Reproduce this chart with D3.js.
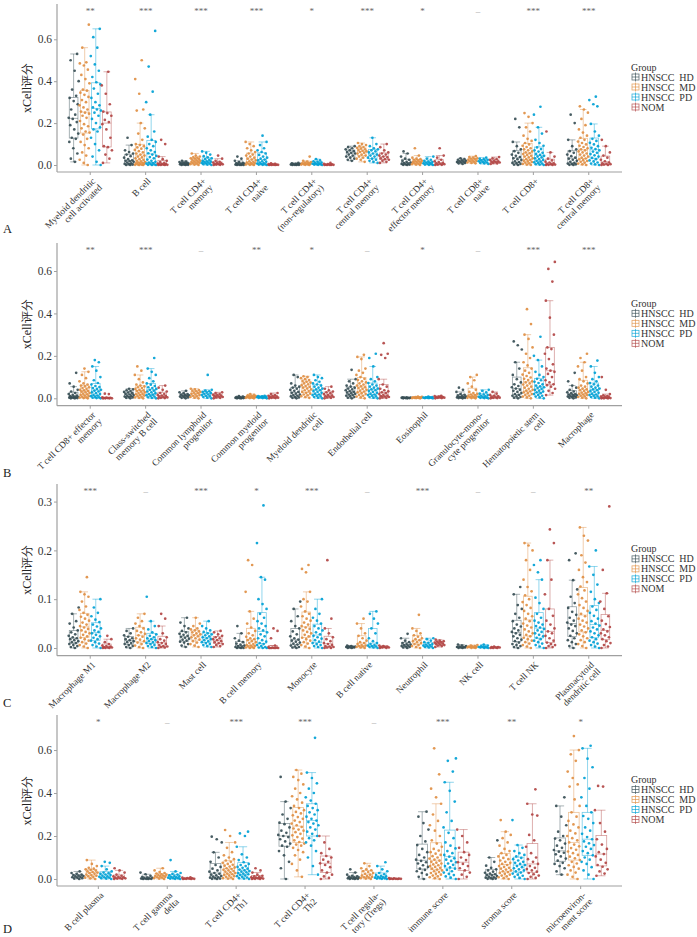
<!DOCTYPE html>
<html>
<head>
<meta charset="utf-8">
<script src="https://cdn.jsdelivr.net/npm/d3@7"></script>
<style>
  body { margin: 0; background: #fff; }
  text { font-family: "Liberation Serif", "Times New Roman", serif; }
</style>
</head>
<body>
<svg id="chart" width="697" height="937"></svg>
<script>
// groups and palette (JAMA)
var groups = ["HNSCC  HD", "HNSCC  MD", "HNSCC  PD", "NOM"];
var colors = ["#374E55", "#DF8F44", "#00A1D5", "#B24745"];

// xCell scores, in units of 0.001
var catsA = ["Myeloid dendritic\ncell activated", "B cell", "T cell CD4+\nmemory", "T cell CD4+\nnaive",
  "T cell CD4+\n(non-regulatory)", "T cell CD4+\ncentral memory", "T cell CD4+\neffector memory",
  "T cell CD8+\nnaive", "T cell CD8+", "T cell CD8+\ncentral memory"];
var sigA = ["**", "***", "***", "***", "*", "***", "*", "–", "***", "***"];
var A_HD = [
  [15,30,55,80,110,125,130,150,170,190,205,220,225,240,265,290,305,320,330,360,400,450,500,530],
  [0,0,2,4,5,8,12,15,18,20,22,28,35,42,50,55,62,70,95,130],
  [0,0,1,2,3,4,5,6,7,8,10,12,14,16,20],
  [0,0,0,1,2,3,4,5,6,8,10,14,20,30,40],
  [0,0,1,1,2,3,4,5,6,8,10],
  [20,25,30,35,40,45,50,55,58,62,66,70,75,80,85,90],
  [0,1,2,3,5,7,9,12,15,20,25,30,40,55,65],
  [5,8,10,12,14,16,18,20,22,25,28,32],
  [0,2,5,8,10,14,18,24,28,32,38,44,50,58,66,75,90,110,180,220],
  [0,1,3,5,7,10,15,20,25,30,35,42,50,58,66,75,90,120,200,240]
];
var A_MD = [
  [0,10,25,45,60,80,95,110,125,145,155,160,175,185,195,210,225,235,245,250,255,265,275,285,300,310,325,335,345,355,360,390,410,430,455,475,485,490,560,670],
  [0,0,1,2,3,5,6,8,10,12,14,17,20,24,28,32,36,40,45,50,55,60,66,72,78,84,90,95,100,120,150,175,200,260,265,340,410,500],
  [0,2,4,6,8,10,12,14,16,18,20,22,25,28,30,32,35,38,40,45,55],
  [0,1,2,4,6,8,10,12,15,18,22,26,30,35,40,45,50,55,62,70,80,90,100,110],
  [0,1,2,3,4,5,6,8,10,12,14,16,20,40],
  [15,25,30,35,40,45,50,55,58,62,65,68,72,75,78,82,86,90,95,100,105],
  [0,2,4,6,8,10,12,14,16,18,20,22,25,28,30,35,45,80],
  [8,10,12,15,18,20,22,25,28,30,32,35,38,42],
  [0,2,5,8,11,14,17,20,24,28,32,36,40,44,48,52,56,60,65,70,75,80,86,92,98,105,115,125,140,160,180,200,230,248],
  [0,3,7,11,15,19,23,27,31,35,40,45,50,55,60,65,70,75,80,86,92,98,105,112,120,130,140,155,170,190,220,250,265,280]
];
var A_PD = [
  [0,15,40,70,100,130,160,170,180,200,220,235,250,260,265,275,285,300,320,340,365,385,395,420,450,480,520,560,610,650],
  [0,0,1,3,5,7,9,11,15,20,26,32,38,44,50,56,62,70,80,90,100,110,120,135,160,240,300,350,470,640],
  [0,2,4,6,8,10,12,14,16,18,20,24,28,32,36,42,50,58,65],
  [0,1,2,3,5,7,9,12,15,18,22,26,30,35,40,48,55,62,70,80,95,110,140],
  [0,1,2,3,4,6,8,10,12,15,18,22,28],
  [10,15,20,25,30,35,40,45,50,55,60,65,70,75,80,90,100,130],
  [0,1,2,4,6,8,10,12,14,16,20,25,30,40],
  [5,8,10,12,15,18,20,22,25,28,30,35],
  [0,2,4,7,10,13,16,20,24,28,32,36,40,44,48,53,58,64,70,76,84,92,105,120,150,180,240,278],
  [0,3,7,12,17,22,28,34,40,46,52,58,64,70,76,82,90,98,106,115,125,140,160,196,280,290,310,326]
];
var A_NOM = [
  [10,30,50,70,85,90,130,170,195,205,215,235,248,255,290,340,380,445],
  [0,0,0,1,2,3,4,5,7,10,14,20,28,40,100,120],
  [0,1,2,3,4,6,8,10,12,15,20,30,45],
  [0,0,0,1,1,2,2,3,4,5,8],
  [0,0,0,1,1,2,3,4,6,10],
  [10,15,20,25,28,32,36,40,45,50,55,60,70,85,100],
  [0,1,2,4,6,8,10,14,18,25,35,45,80],
  [5,8,10,12,14,16,18,20,24,28,32,38],
  [0,0,1,2,4,6,8,12,16,22,30,40,60,160],
  [0,0,2,4,6,8,12,18,25,35,45,60,90,120]
];

var catsB = ["T cell CD8+ effector\nmemory", "Class-switched\nmemory B cell", "Common lymphoid\nprogenitor",
  "Common myeloid\nprogenitor", "Myeloid dendritic\ncell", "Endothelial cell", "Eosinophil",
  "Granulocyte-mono-\ncyte progenitor", "Hematopoietic stem\ncell", "Macrophage"];
var sigB = ["**", "***", "–", "**", "*", "–", "*", "–", "***", "***"];
var B_HD = [
  [0,0,1,2,3,4,5,6,8,10,13,16,20,25,32,40,55,70,120],
  [0,2,4,6,8,10,12,15,18,21,24,27,30,34,38,42,45],
  [0,2,4,6,8,10,12,14,16,18,20,24,28,35],
  [0,0,1,1,2,2,3,4,5,6,8,10],
  [0,2,4,6,9,12,15,18,22,26,30,35,40,45,50,55,60,70,100,110],
  [0,3,6,9,12,15,18,21,24,27,30,34,38,42,46,50,55,60,70,80,90,134],
  [0,0,1,1,2,2,3,3,4,5],
  [0,1,2,3,4,5,6,8,10,13,16,20,30,40,50],
  [0,3,6,9,12,16,20,25,30,35,40,46,52,58,66,75,90,110,140,170,230,250,268],
  [0,2,4,6,8,10,12,14,16,18,20,24,28,32,40,50,60,80,120]
];
var B_MD = [
  [0,1,3,5,7,10,13,16,19,22,25,28,31,34,37,40,44,48,52,56,60,65,70,80,95,110,125,140],
  [0,2,4,7,10,13,16,19,22,25,28,31,34,37,40,44,48,52,56,60,65,75,90,110,130,150],
  [0,3,6,9,12,15,18,21,24,27,30,33,36,39,42,45],
  [0,1,2,3,4,5,6,7,8,9,10,12,14,16,20],
  [2,6,10,14,18,22,26,30,34,38,42,46,50,54,58,62,66,70,74,78,82,86,90,95,100,104],
  [0,4,8,12,16,20,24,28,32,36,40,44,48,52,56,60,65,70,75,80,86,92,100,110,120,130,140,185,195,205],
  [0,1,1,2,2,3,3,4,5,6,7,8],
  [0,1,2,4,6,8,10,12,15,18,21,25,30,40,55,70,85,100,110],
  [0,4,8,12,16,20,24,28,32,36,40,45,50,55,60,65,70,75,80,86,92,98,105,112,120,130,140,155,170,190,210,240,280,300,350,420],
  [0,3,6,9,12,15,18,21,24,27,30,34,38,42,46,50,55,60,70,80,90,100,130,150,170,190,210]
];
var B_PD = [
  [0,1,3,5,7,10,13,16,20,24,28,32,36,40,44,48,53,58,65,72,85,100,130,150,170,180],
  [0,2,5,8,11,14,17,20,24,28,32,36,40,44,48,52,58,64,70,80,95,110,125,140,190],
  [0,3,6,9,12,15,18,21,24,27,30,33,36,40,110],
  [0,1,2,3,4,5,6,7,8,9,10,12],
  [0,3,6,9,12,15,18,22,26,30,34,38,42,46,50,55,60,65,70,78,85,95,100,110],
  [0,3,6,9,12,15,18,22,26,30,34,38,42,46,50,55,60,65,72,80,90,100,150,190,210],
  [0,1,1,2,2,3,4,5,6,8],
  [0,1,2,3,5,7,9,12,15,18,22,28,35,40],
  [0,4,8,12,16,20,24,28,32,36,40,44,48,52,56,60,66,72,78,85,92,100,110,125,150,180,200,290],
  [0,3,6,9,12,15,18,22,26,30,34,38,42,46,50,55,60,66,72,80,90,100,120,150,178]
];
var B_NOM = [
  [0,0,0,0,1,1,2,3,5,20,22],
  [0,1,2,4,6,8,10,13,16,20,25,32,40,50,60],
  [0,2,4,6,8,10,12,14,17,20,24,28],
  [0,1,2,3,4,6,8,10,12,15,20,25],
  [0,2,4,6,8,10,13,16,20,24,28,32,38,45,55],
  [0,2,4,6,8,10,13,16,20,24,28,33,38,45,55,65,90,190,205,210,260],
  [0,1,2,3,4,5,6,8,10,12],
  [0,1,2,3,5,7,9,12,16,22,30],
  [15,25,35,45,55,62,66,75,85,100,115,125,130,140,160,185,210,232,240,300,380,460,550,610,643],
  [0,0,0,1,2,3,4,6,8,10,14,20,40,100]
];

var catsC = ["Macrophage M1", "Macrophage M2", "Mast cell", "B cell memory", "Monocyte",
  "B cell native", "Neutrophil", "NK cell", "T cell NK", "Plasmacytoid\ndendritic cell"];
var sigC = ["***", "–", "***", "*", "***", "–", "***", "–", "–", "**"];
var C_HD = [
  [0,2,4,6,8,10,12,14,16,18,20,22,25,28,32,36,42,50,55,70,83],
  [0,2,4,6,8,10,12,14,16,18,20,23,26,30,35,40],
  [2,5,8,11,13,15,17,19,21,23,25,27,29,32,35,40,45,52,62],
  [0,0,0,1,2,3,4,5,7,9,12,15,20,30,45],
  [0,1,2,3,5,7,9,11,13,15,17,20,24,28,34,40,45,55,65,80,95],
  [0,0,1,1,2,2,3,3,4,5],
  [0,1,2,3,4,5,6,7,8,10,12,15,20,29],
  [0,0,1,1,2,2,3,4,5,7],
  [0,2,4,6,8,11,14,17,20,24,27,30,33,36,40,44,48,55,62,70,80,88,110,125],
  [0,4,8,12,16,20,25,30,35,40,45,48,52,56,62,68,74,82,92,105,120,139,180,194]
];
var C_MD = [
  [0,3,6,9,12,15,18,21,24,27,30,33,36,39,42,45,48,52,56,60,64,68,72,78,85,95,105,110,115,145],
  [0,2,5,8,11,14,17,20,23,26,29,32,35,40,45,50,55,62,70],
  [2,5,8,11,14,17,20,22,24,26,28,30,32,34,36,38,40,45,50,62],
  [0,0,1,2,3,4,5,6,8,10,12,14,16,18,20,23,26,30,35,42,50,60,75,115,170,180],
  [0,3,6,9,12,15,18,21,24,27,30,33,36,39,42,45,48,52,56,60,65,70,75,85,95,100,115,155,162,170],
  [0,1,2,3,4,5,6,8,10,12,15,20,25,30,40,50,60],
  [0,2,4,6,8,10,12,14,16,18,20,23,26,30,35,40,68],
  [0,0,1,1,2,2,3,3,4,5,6],
  [0,3,6,9,12,15,18,21,24,27,30,34,38,42,46,50,55,60,65,70,76,82,88,94,100,108,116,125,140,160,180,200,210,215],
  [0,4,8,12,16,20,24,28,32,36,40,44,48,52,56,60,65,70,76,82,88,95,102,110,118,126,135,145,160,175,190,220,230,247]
];
var C_PD = [
  [0,3,6,9,12,15,18,21,24,27,30,33,36,40,44,48,53,58,65,72,83,100],
  [0,2,4,6,8,10,12,14,16,18,20,22,25,28,32,38,45,55,105],
  [2,4,6,8,10,12,14,16,18,20,22,24,26,28,30,33,36,40,45,55],
  [0,0,1,2,4,6,8,10,13,16,20,24,28,32,36,40,45,50,55,62,70,80,90,100,140,145,215,292],
  [0,2,4,6,8,10,13,16,19,22,25,28,32,36,40,45,50,56,62,70,80,100],
  [0,1,2,3,4,5,6,8,10,14,20,30,40,50,60,70,75],
  [0,1,2,3,4,5,6,7,8,10,12,15,18,20],
  [0,0,1,1,2,2,3,4,5,7],
  [0,3,6,9,12,15,18,21,24,27,30,33,36,39,42,45,48,52,56,62,70,80,92,103,140,155,170,180],
  [0,3,6,9,12,15,18,22,26,30,34,38,42,46,50,55,60,66,72,78,85,92,100,115,130,150,167,200]
];
var C_NOM = [
  [0,0,0,1,1,2,3,4,5,8,12,18,25],
  [0,1,2,3,4,6,8,10,12,15,18,22,30,45,60,70],
  [2,4,6,8,10,12,14,16,18,20,22,25,28,32,35],
  [0,0,0,0,0,0,1,1,2,5,20,35,40],
  [0,0,1,2,3,4,6,8,10,14,18,22,30,40,60,180],
  [0,0,1,1,2,2,3,4,5],
  [2,4,5,6,7,8,9,10,11,12,13,14,15,17],
  [0,0,0,1,1,2,2,3],
  [0,2,4,6,8,11,15,20,25,30,34,40,48,56,66,80,110,140,180,215,243],
  [0,3,6,10,14,18,22,26,30,34,38,43,49,56,65,80,95,112,160,290]
];

var catsD = ["B cell plasma", "T cell gamma\ndelta", "T cell CD4+\nTh1", "T cell CD4+\nTh2",
  "T cell regula-\ntory (Tregs)", "immune score", "stroma score", "microenviron-\nment score"];
var sigD = ["*", "–", "***", "***", "–", "***", "**", "*"];
var D_HD = [
  [0,2,4,6,8,10,12,14,16,18,20,24,28,35],
  [0,0,1,1,2,3,4,5,7,10,15,22,30],
  [0,1,2,4,6,8,11,14,17,20,24,28,34,40,48,56,65,80,100,124,170,185,197],
  [0,50,80,110,130,150,155,165,175,185,195,200,205,215,225,240,255,262,280,300,330,360,475],
  [0,0,1,2,3,4,5,6,8,10,12,15,20,30,45],
  [0,10,20,28,36,42,48,56,64,72,78,84,90,100,112,125,140,158,175,200,230,260,290,313],
  [0,1,2,4,6,8,11,14,17,19,22,25,29,34,40,45,52,62,80,100,180],
  [20,35,50,60,70,75,85,95,105,115,122,127,135,145,155,165,180,188,200,220,250,290,340,380]
];
var D_MD = [
  [0,3,6,9,12,15,18,21,24,27,30,33,36,39,42,45,48,52,60,70,88],
  [0,2,4,6,8,10,12,14,16,18,20,22,25,28,32,40,50],
  [0,2,4,7,10,13,16,19,22,25,28,31,34,37,40,43,46,50,54,58,62,66,70,75,80,86,92,100,110,125,145,170,200,228],
  [10,40,70,90,110,125,135,145,155,160,165,172,180,188,195,203,210,218,225,230,235,242,250,258,265,272,280,288,296,305,312,320,330,340,355,370,385,400,420,440,460,475,490,507],
  [0,2,4,6,8,10,13,16,20,24,28,32,36,40,45,50,60,73],
  [0,4,8,12,16,20,24,28,32,36,40,44,48,52,56,60,64,68,72,76,80,85,90,95,100,106,112,118,125,132,140,150,165,180,200,225,250,270,300,350,380,420,487,608],
  [0,4,8,12,16,20,24,28,32,36,40,44,48,52,56,60,65,70,75,80,86,92,98,105,112,120,130,140,155,170,190,205,220,274],
  [0,10,20,30,40,48,56,64,72,80,88,96,104,112,120,128,136,144,152,160,170,180,190,200,212,225,240,254,270,290,310,340,370,430,440,470,500,550,580,600,665]
];
var D_PD = [
  [0,2,4,6,8,10,12,15,18,21,24,27,30,35,45,60,75,80],
  [0,1,2,3,4,6,8,10,12,14,17,20,24,28,35,88],
  [0,2,4,7,10,13,16,19,22,25,28,31,34,37,40,44,48,52,56,60,65,70,78,88,100,115,150,200,212,220],
  [20,60,100,130,155,170,180,190,200,210,220,230,240,250,258,265,272,280,290,300,310,320,330,340,350,365,380,400,420,445,470,495,657],
  [0,1,2,3,4,6,8,10,12,15,18,22,28,36,45,60,78],
  [0,6,12,18,24,30,36,42,48,54,60,66,72,78,84,90,96,104,112,120,130,142,155,170,190,215,240,270,310,360,410,450,500,550,561],
  [0,5,10,15,20,25,30,35,40,45,50,55,60,65,70,75,80,86,92,98,105,112,120,130,145,158,274],
  [0,20,40,55,70,80,90,100,110,120,130,140,150,158,166,175,185,195,210,225,240,260,280,293,310,340,380,420,470,520,560,608,620]
];
var D_NOM = [
  [0,1,2,3,4,6,8,10,12,15,20,30,40,50],
  [0,0,1,1,2,2,3,4,6,8],
  [0,0,1,2,3,4,5,6,8,10,12,15,20,30,40,50],
  [0,5,12,20,30,40,55,65,73,80,90,100,107,120,140,170,200],
  [0,0,0,1,1,2,2,3,4],
  [0,10,20,30,40,50,60,70,78,88,100,112,125,145,170,200,230],
  [0,5,10,16,22,28,34,40,46,52,60,70,80,92,100,120,150,180,205,295,300,350,417],
  [15,25,35,45,57,65,75,90,105,116,125,140,160,185,220,260,320,430,433]
];

var ticksWide = [0, 0.2, 0.4, 0.6];
var ticksNarrow = [0, 0.1, 0.2, 0.3];

var svg = d3.select("#chart");

// layout of the four stacked panels
var panels = [
  { letter: "A", cats: catsA, sig: sigA, data: [A_HD, A_MD, A_PD, A_NOM], ticks: ticksWide,
    top: 4, bottom: 172, ydom: [-0.0334, 0.7685], letterY: 233 },
  { letter: "B", cats: catsB, sig: sigB, data: [B_HD, B_MD, B_PD, B_NOM], ticks: ticksWide,
    top: 243, bottom: 405.7, ydom: [-0.0349, 0.732], letterY: 477 },
  { letter: "C", cats: catsC, sig: sigC, data: [C_HD, C_MD, C_PD, C_NOM], ticks: ticksNarrow,
    top: 484, bottom: 655.7, ydom: [-0.0158, 0.336], letterY: 707 },
  { letter: "D", cats: catsD, sig: sigD, data: [D_HD, D_MD, D_PD, D_NOM], ticks: ticksWide,
    top: 715, bottom: 886, ydom: [-0.0326, 0.763], letterY: 933 }
];

var left = 57, right = 622;

// ggplot style box stats (type 7 quantiles, 1.5 IQR whiskers)
var boxStats = function(raw) {
  var v = raw.map(function(d) { return d / 1000; }).sort(d3.ascending);
  var q1 = d3.quantile(v, 0.25), med = d3.quantile(v, 0.5), q3 = d3.quantile(v, 0.75);
  var iqr = q3 - q1;
  var lo = d3.min(v.filter(function(d) { return d >= q1 - 1.5 * iqr; }));
  var hi = d3.max(v.filter(function(d) { return d <= q3 + 1.5 * iqr; }));
  return { v: v, q1: q1, med: med, q3: q3, lo: lo, hi: hi };
};

var drawPanel = function(p) {
  var g = svg.append("g");
  var x = d3.scaleBand().domain(p.cats).range([left, right]).paddingInner(0).paddingOuter(0.1);
  var y = d3.scaleLinear().domain(p.ydom).range([p.bottom, p.top]);
  var step = x.bandwidth();
  var dodge = d3.scaleBand().domain(d3.range(groups.length)).range([-0.4 * step, 0.4 * step]);
  var slot = dodge.bandwidth();

  // axes
  var yAxis = g.append("g").attr("transform", "translate(" + left + ",0)")
    .call(d3.axisLeft(y).tickValues(p.ticks).tickFormat(d3.format(".1f")).tickSize(3).tickSizeOuter(0));
  yAxis.select(".domain").attr("stroke", "#a0a0a0").attr("stroke-width", 1.2)
    .attr("d", "M0," + p.top + "V" + p.bottom);
  yAxis.selectAll(".tick line").attr("stroke", "#a0a0a0");
  yAxis.selectAll(".tick text").attr("font-size", 11.5).attr("fill", "#333")
    .attr("font-family", "Liberation Serif").attr("x", -5);

  var xAxis = g.append("g").attr("transform", "translate(0," + p.bottom + ")")
    .call(d3.axisBottom(x).tickSize(3).tickSizeOuter(0));
  xAxis.select(".domain").attr("stroke", "#a0a0a0").attr("stroke-width", 1.2)
    .attr("d", "M" + left + ",0H" + right);
  xAxis.selectAll(".tick line").attr("stroke", "#a0a0a0");
  xAxis.selectAll(".tick text").remove();

  // rotated multi-line category labels
  p.cats.forEach(function(c) {
    var t = g.append("text")
      .attr("transform", "translate(" + (x(c) + step / 2 + 1) + "," + (p.bottom + 5) + ") rotate(-45)")
      .attr("text-anchor", "end").attr("font-size", 9.3).attr("fill", "#333");
    c.split("\n").forEach(function(line, i) {
      t.append("tspan").attr("x", 0).attr("y", 0).attr("dy", (0.72 + i * 1.0) + "em").text(line);
    });
  });

  // y title
  var cy = (p.top + p.bottom) / 2;
  g.append("text").attr("transform", "translate(27," + cy + ") rotate(-90)")
    .attr("text-anchor", "middle").attr("dominant-baseline", "central")
    .attr("font-size", 12).attr("fill", "#222").text("xCell评分");

  // significance labels
  g.selectAll(".sig").data(p.sig).enter().append("text")
    .attr("x", function(d, i) { return x(p.cats[i]) + step / 2; })
    .attr("y", p.top + 10)
    .attr("text-anchor", "middle").attr("font-size", 9)
    .attr("fill", function(d) { return d === "–" ? "#999" : "#666"; })
    .text(function(d) { return d; });

  // boxes and whiskers
  var boxes = g.append("g");
  var pts = g.append("g");
  p.cats.forEach(function(c, ci) {
    groups.forEach(function(grp, gi) {
      var s = boxStats(p.data[gi][ci]);
      var cx = x(c) + step / 2 + dodge(gi) + slot / 2;
      var bw = slot * 0.78, cw = slot * 0.6;
      var col = colors[gi];
      var b = boxes.append("g").attr("stroke", col).attr("stroke-opacity", 0.55)
        .attr("stroke-width", 0.8).attr("fill", "none");
      b.append("line").attr("x1", cx).attr("x2", cx).attr("y1", y(s.q3)).attr("y2", y(s.hi));
      b.append("line").attr("x1", cx).attr("x2", cx).attr("y1", y(s.q1)).attr("y2", y(s.lo));
      b.append("line").attr("x1", cx - cw / 2).attr("x2", cx + cw / 2).attr("y1", y(s.hi)).attr("y2", y(s.hi));
      b.append("line").attr("x1", cx - cw / 2).attr("x2", cx + cw / 2).attr("y1", y(s.lo)).attr("y2", y(s.lo));
      b.append("rect").attr("x", cx - bw / 2).attr("width", bw)
        .attr("y", y(s.q3)).attr("height", Math.max(0.5, y(s.q1) - y(s.q3)));
      b.append("line").attr("x1", cx - bw / 2).attr("x2", cx + bw / 2).attr("y1", y(s.med)).attr("y2", y(s.med));

      // jittered points (fixed golden ratio spread, no randomness)
      pts.selectAll(null).data(s.v).enter().append("circle")
        .attr("cx", function(d, i) { return cx + (((i + 1) * 0.618034 + gi * 0.17) % 1 - 0.5) * slot * 0.95; })
        .attr("cy", function(d) { return y(d); })
        .attr("r", 1.35).attr("fill", col).attr("fill-opacity", 0.92);
    });
  });

  // legend
  var lg = g.append("g");
  lg.append("text").attr("x", 631).attr("y", cy - 21).attr("dominant-baseline", "central")
    .attr("font-size", 10).attr("fill", "#333").text("Group");
  groups.forEach(function(grp, gi) {
    var ly = cy - 11 + gi * 10;
    var k = lg.append("g").attr("stroke", colors[gi]).attr("stroke-opacity", 0.8).attr("fill", "none").attr("stroke-width", 0.8);
    k.append("line").attr("x1", 635.5).attr("x2", 635.5).attr("y1", ly - 4.5).attr("y2", ly + 4.5);
    k.append("rect").attr("x", 632).attr("y", ly - 3).attr("width", 7).attr("height", 6);
    k.append("line").attr("x1", 632).attr("x2", 639).attr("y1", ly).attr("y2", ly);
    lg.append("text").attr("x", 641).attr("y", ly).attr("dominant-baseline", "central")
      .attr("font-size", 10).attr("fill", "#333").style("white-space", "pre").text(grp);
  });

  // panel letter
  g.append("text").attr("x", 3).attr("y", p.letterY).attr("font-size", 12.5).attr("fill", "#222").text(p.letter);
};

panels.forEach(drawPanel);
</script>
</body>
</html>
